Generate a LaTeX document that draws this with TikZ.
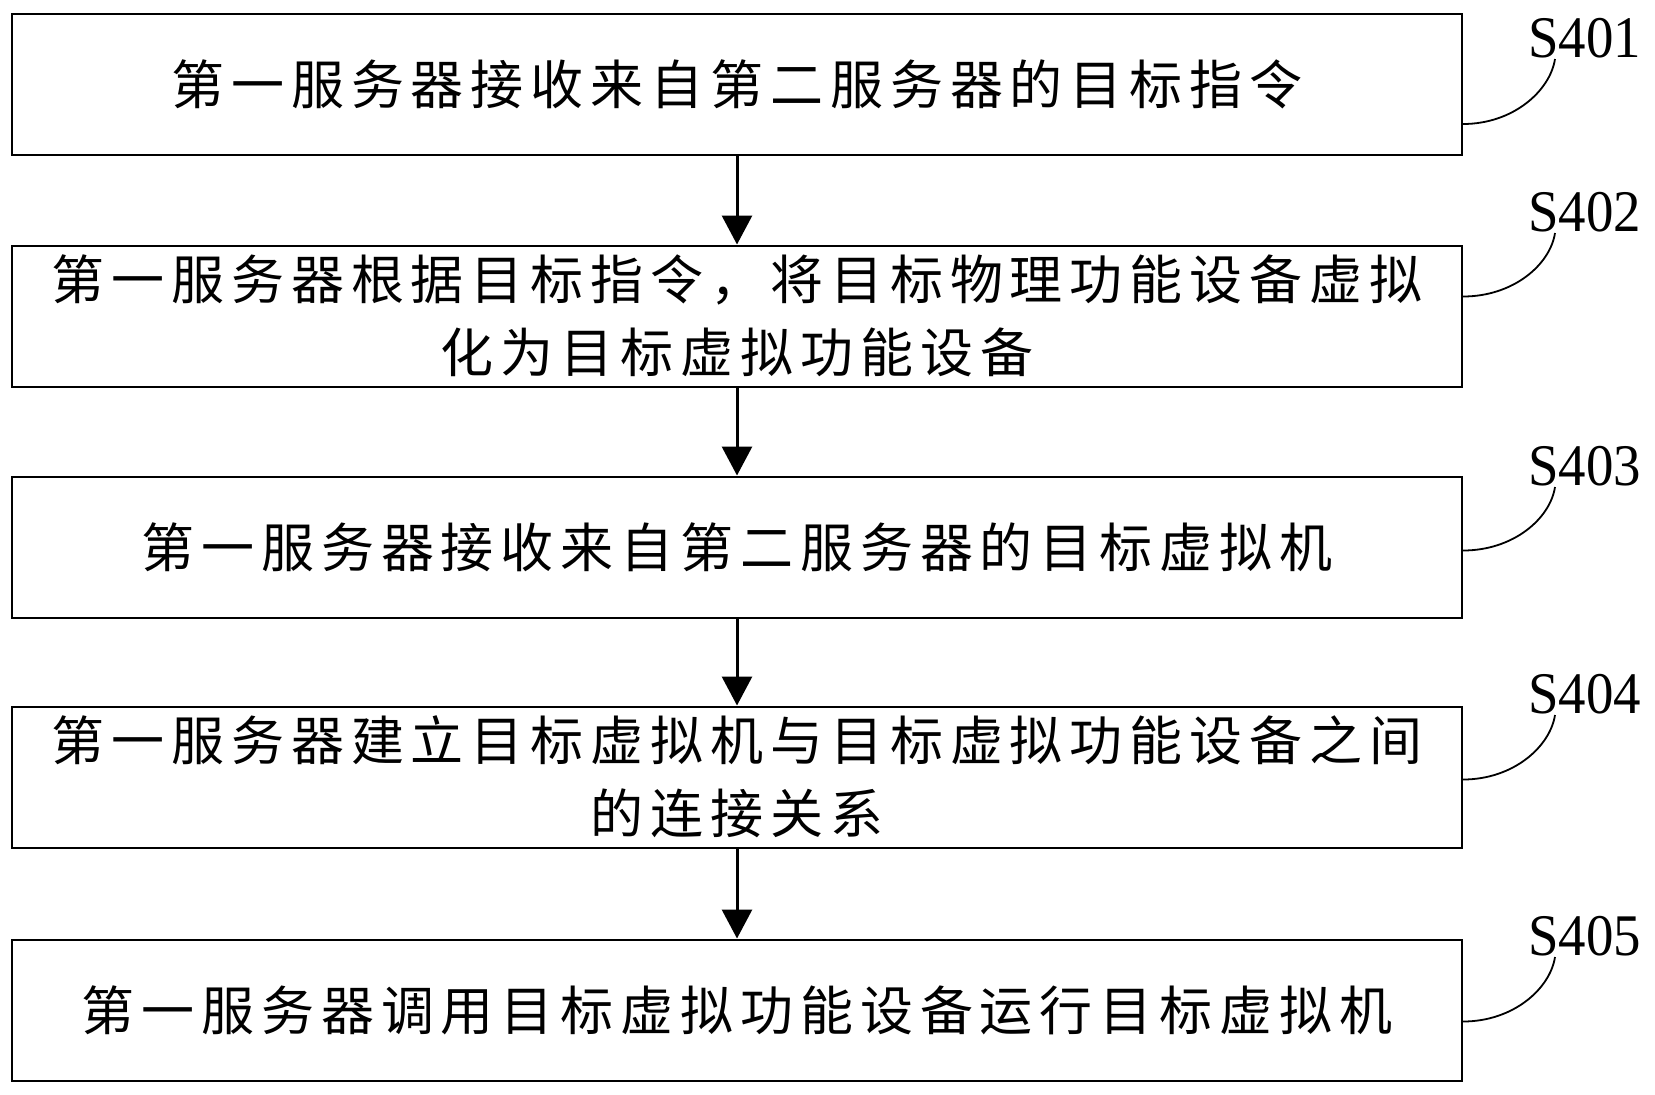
\documentclass[tikz,border=0pt]{standalone}
\usepackage{fontspec}
\setmainfont{Liberation Serif}
\newfontfamily\cjk[LetterSpace=13]{Noto Sans CJK SC}
\usetikzlibrary{arrows.meta,calc}
\tikzset{
  stepbox/.style={draw, line width=1pt, minimum width=725pt, minimum height=70.5pt,
    inner sep=0pt, align=center, font=\cjk\fontsize{26.5pt}{36.5pt}\selectfont},
  flowarrow/.style={line width=1.5pt, -{Triangle[length=14.5pt,width=15pt]}},
  steplabel/.style={anchor=base west, inner sep=0pt, font=\fontsize{29.5pt}{32pt}\selectfont},
  leader/.style={line width=0.9pt}
}
\begin{document}
\begin{tikzpicture}[x=0.5pt,y=-0.5pt]
\useasboundingbox (0,0) rectangle (1655,1094);
\node[stepbox] (b1) at (737,84.5) {第一服务器接收来自第二服务器的目标指令};
\node[stepbox] (b2) at (737,316) {第一服务器根据目标指令，将目标物理功能设备虚拟\\化为目标虚拟功能设备};
\node[stepbox] (b3) at (737,547) {第一服务器接收来自第二服务器的目标虚拟机};
\node[stepbox] (b4) at (737,777) {第一服务器建立目标虚拟机与目标虚拟功能设备之间\\的连接关系};
\node[stepbox] (b5) at (737,1010) {第一服务器调用目标虚拟功能设备运行目标虚拟机};

\draw[flowarrow] (b1) -- (b2);
\draw[flowarrow] (b2) -- (b3);
\draw[flowarrow] (b3) -- (b4);
\draw[flowarrow] (b4) -- (b5);

\node[steplabel] (l1) at (1528,57) {\scalebox{0.93}[1]{S401}};
\node[steplabel] (l2) at (1528,231) {\scalebox{0.93}[1]{S402}};
\node[steplabel] (l3) at (1528,485) {\scalebox{0.93}[1]{S403}};
\node[steplabel] (l4) at (1528,713) {\scalebox{0.93}[1]{S404}};
\node[steplabel] (l5) at (1528,955) {\scalebox{0.93}[1]{S405}};

\coordinate (c1) at ($(b1.north east)+(0,111)$);
\coordinate (c2) at ($(b2.north east)+(0,52)$);
\coordinate (c3) at ($(b3.north east)+(0,75)$);
\coordinate (c4) at ($(b4.north east)+(0,74)$);
\coordinate (c5) at ($(b5.north east)+(0,83)$);

\foreach \i in {1,...,5}{
  \draw[leader] (c\i) .. controls +(50,0) and +(-5,32) .. ($(l\i.base west)+(27,2)$);
}
\end{tikzpicture}
\end{document}
